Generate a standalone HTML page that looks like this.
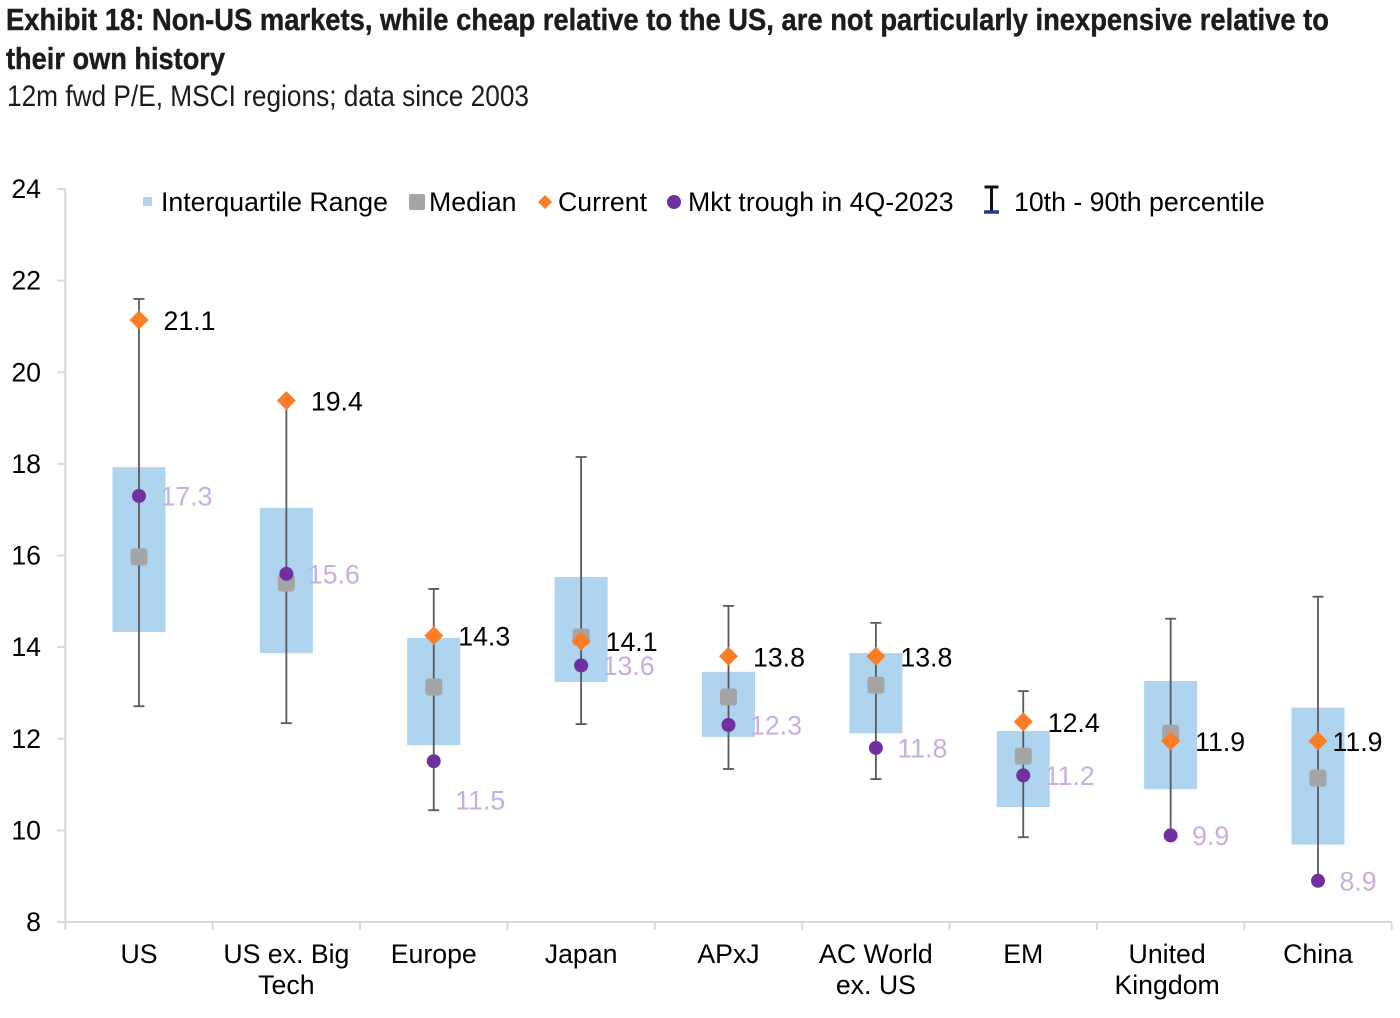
<!DOCTYPE html>
<html lang="en">
<head>
<meta charset="utf-8">
<title>Exhibit 18</title>
<style>
html,body{margin:0;padding:0;background:#fff;}
svg{display:block;}
text{font-family:"Liberation Sans",Arial,sans-serif;}
</style>
</head>
<body>
<svg id="chart" width="1400" height="1018" viewBox="0 0 1400 1018" xmlns="http://www.w3.org/2000/svg">
  <text x="6" y="30" font-size="31" font-weight="bold" fill="#1c1c1c" stroke="#1c1c1c" stroke-width="0.4" textLength="1323" lengthAdjust="spacingAndGlyphs">Exhibit 18: Non-US markets, while cheap relative to the US, are not particularly inexpensive relative to</text>
  <text x="6" y="69" font-size="31" font-weight="bold" fill="#1c1c1c" stroke="#1c1c1c" stroke-width="0.4" textLength="219" lengthAdjust="spacingAndGlyphs">their own history</text>
  <text x="7" y="106" font-size="30" fill="#1c1c1c" textLength="522" lengthAdjust="spacingAndGlyphs">12m fwd P/E, MSCI regions; data since 2003</text>

  <g id="axes"></g>
  <g id="marks"></g>

  <g font-size="26.700" fill="#000">
    <rect x="143" y="197" width="9" height="9" fill="#aed4f0"/>
    <text x="161" y="211">Interquartile Range</text>
    <rect x="409" y="194" width="16" height="16" rx="2" fill="#a5a5a5"/>
    <text x="429" y="211">Median</text>
    <polygon points="545,195 552,202 545,209 538,202" fill="#fb7d24"/>
    <text x="558" y="211">Current</text>
    <circle cx="674" cy="202" r="7" fill="#7030a0"/>
    <text x="688" y="211">Mkt trough in 4Q-2023</text>
    <g>
      <path d="M984.500 187H998.500M991.500 187V211" stroke="#111" stroke-width="3" fill="none"/>
      <path d="M984 212H999" stroke="#1f3c8f" stroke-width="3.500" fill="none"/>
    </g>
    <text x="1014" y="211">10th - 90th percentile</text>
  </g>
</svg>
<script>
const categories = [["US"],["US ex. Big","Tech"],["Europe"],["Japan"],["APxJ"],["AC World","ex. US"],["EM"],["United","Kingdom"],["China"]];
const q3Values      = [17.93,17.04,14.20,15.53,13.46,13.87,12.17,13.26,12.68];
const q1Values      = [14.33,13.87,11.86,13.24,12.04,12.12,10.51,10.90,9.69];
const medianValues  = [15.97,15.40,13.13,14.22,12.91,13.17,11.62,12.12,11.14];
const p90Values     = [21.60,19.40,15.27,18.15,14.90,14.53,13.04,14.62,15.10];
const p10Values     = [12.71,12.34,10.44,12.32,11.34,11.12,9.85,9.90,8.90];
const currentValues = [21.14,19.38,14.25,14.13,13.80,13.80,12.37,11.95,11.95];
const troughValues  = [17.30,15.60,11.51,13.60,12.30,11.80,11.20,9.89,8.90];
const currentLabels = ["21.1","19.4","14.3","14.1","13.8","13.8","12.4","11.9","11.9"];
const troughLabels  = ["17.3","15.6","11.5","13.6","12.3","11.8","11.2","9.9","8.9"];
const yTicks = [8,10,12,14,16,18,20,22,24];

const NS = 'http://www.w3.org/2000/svg';
const plot = {left:65.3, right:1391.7, top:189, bottom:922, yMin:8, yMax:24};
const FONT = 26.7;
function yScale(v){ return plot.bottom - (v - plot.yMin) / (plot.yMax - plot.yMin) * (plot.bottom - plot.top); }
function band(){ return (plot.right - plot.left) / categories.length; }
function xScale(i){ return plot.left + band() * (i + 0.5); }
function make(tag, attrs, parent){
  const el = document.createElementNS(NS, tag);
  for (const k in attrs) el.setAttribute(k, attrs[k]);
  parent.appendChild(el);
  return el;
}
const axes = document.getElementById('axes');
const marks = document.getElementById('marks');
const AXIS = '#d9d9d9';

const yAxisLine = make('line', {x1:plot.left,x2:plot.left,y1:plot.top,y2:plot.bottom,stroke:AXIS,'stroke-width':2}, axes);


const xAxisLine = make('line', {x1:plot.left-8,x2:plot.right,y1:plot.bottom,y2:plot.bottom,stroke:AXIS,'stroke-width':2}, axes);



yTicks.forEach(function(t){
  const y = yScale(t);
  const tick = make('line', {x1:plot.left-8,x2:plot.left,y1:y,y2:y,stroke:AXIS,'stroke-width':2}, axes);
  
  
  const label = make('text', {x:41,y:y+9,'text-anchor':'end','font-size':FONT,fill:'#000'}, axes);
  label.textContent = t;
  
  
});

for (let i = 0; i <= categories.length; i++) {
  const x = plot.left + band() * i;
  const tick = make('line', {x1:x,x2:x,y1:plot.bottom,y2:plot.bottom+8,stroke:AXIS,'stroke-width':2}, axes);
  
  
}

/* Hand-placed label nudges from the original chart, keyed by category */
const categoryLabelDx = {"United":-3.5};
const troughLabelDy = {"Europe":39};
const currentLabelDx = {"China":-10};

categories.forEach(function(lines, i){
  lines.forEach(function(line, n){
    const label = make('text', {x:xScale(i)+(categoryLabelDx[lines[0]]||0),y:963+n*31,'text-anchor':'middle','font-size':FONT,fill:'#000'}, axes);
    label.textContent = line;
    
    
  });
});

categories.forEach(function(lines, i){
  const x = xScale(i);
  const name = lines[0];

  const box = make('rect', {x:x-26.5,y:yScale(q3Values[i]),width:53,height:yScale(q1Values[i])-yScale(q3Values[i]),fill:'#aed4f0'}, marks);
  
  

  const whisker = make('line', {x1:x,x2:x,y1:yScale(p90Values[i]),y2:yScale(p10Values[i]),stroke:'#595959','stroke-width':1.800}, marks);
  
  
  [p90Values[i], p10Values[i]].forEach(function(v){
    const cap = make('line', {x1:x-5.500,x2:x+5.500,y1:yScale(v),y2:yScale(v),stroke:'#595959','stroke-width':1.800}, marks);
    
    
  });

  const my = yScale(medianValues[i]);
  const median = make('rect', {x:x-8.500,y:my-8.500,width:17,height:17,rx:3,fill:'#a5a5a5'}, marks);
  
  

  const ty = yScale(troughValues[i]);
  const trough = make('circle', {cx:x,cy:ty,r:7,fill:'#7030a0'}, marks);
  
  

  const cy = yScale(currentValues[i]);
  const current = make('polygon', {points:[x,cy-9.500,x+9.500,cy,x,cy+9.500,x-9.500,cy].join(' '),fill:'#fb7d24'}, marks);
  
  

  const tLabel = make('text', {x:x+21.5,y:ty+9.5+(troughLabelDy[name]||0),'font-size':FONT,fill:'#c9aee0'}, marks);
  tLabel.textContent = troughLabels[i];
  
  

  const cLabel = make('text', {x:x+24.5+(currentLabelDx[name]||0),y:cy+10,'font-size':FONT,fill:'#000'}, marks);
  cLabel.textContent = currentLabels[i];
  
  
});
</script>
</body>
</html>
